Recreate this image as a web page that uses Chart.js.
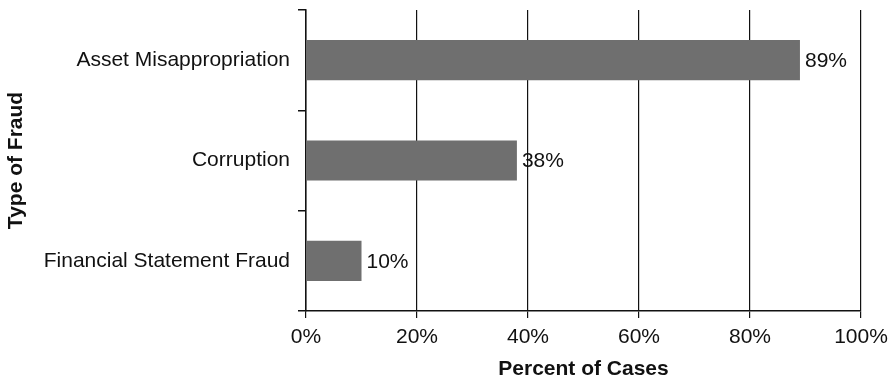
<!DOCTYPE html>
<html>
<head>
<meta charset="utf-8">
<script src="https://cdn.jsdelivr.net/npm/chart.js@4"></script>
<style>
  html, body { margin: 0; padding: 0; background: #fff; }
  #wrap { width: 892px; height: 379px; }
</style>
</head>
<body>
<div id="wrap"><canvas id="grafico"></canvas></div>
<script>
var tipiDiFrode = ['Asset Misappropriation', 'Corruption', 'Financial Statement Fraud'];
var percentuali = [89, 38, 10];
var tickX = [0, 20, 40, 60, 80, 100];

// scrive la percentuale a destra di ogni barra
var etichetteBarre = {
  id: 'etichetteBarre',
  afterDatasetsDraw: function (chart) {
    var ctx = chart.ctx;
    var meta = chart.getDatasetMeta(0);
    ctx.save();
    ctx.font = '21px "Liberation Sans", Arial, sans-serif';
    ctx.fillStyle = '#111';
    ctx.textAlign = 'left';
    ctx.textBaseline = 'middle';
    meta.data.forEach(function (bar, i) {
      ctx.fillText(percentuali[i] + '%', bar.x + 5, bar.y + 1);
    });
    ctx.restore();
  }
};

var font = { family: '"Liberation Sans", Arial, sans-serif', size: 21 };

new Chart(document.getElementById('grafico'), {
  type: 'bar',
  data: {
    labels: tipiDiFrode,
    datasets: [{
      data: percentuali,
      backgroundColor: '#6f6f6f',
      barPercentage: 0.4,
      categoryPercentage: 1
    }]
  },
  options: {
    indexAxis: 'y',
    responsive: true,
    maintainAspectRatio: false,
    animation: false,
    layout: { padding: { top: 10, right: 31, bottom: 0, left: 0 } },
    plugins: { legend: { display: false }, tooltip: { enabled: false } },
    scales: {
      x: {
        min: 0, max: 100,
        afterBuildTicks: function (scale) {
          scale.ticks = tickX.map(function (v) { return { value: v }; });
        },
        afterFit: function (scale) {
          scale.height = 68;
          scale.paddingLeft = 0;
          scale.paddingRight = 0;
        },
        ticks: {
          color: '#111', font: font, padding: 7,
          callback: function (v) { return v + '%'; }
        },
        grid: {
          color: '#111', lineWidth: 1.2, tickLength: 7, drawTicks: true,
          tickColor: '#111'
        },
        border: { display: true, color: '#111', width: 1.5 },
        title: {
          display: true, text: 'Percent of Cases', color: '#111',
          font: { family: font.family, size: 21, weight: 'bold', lineHeight: 0.9 },
          padding: { top: 4, bottom: 0 }
        }
      },
      y: {
        afterFit: function (scale) {
          scale.width = 306;
          scale.paddingTop = 0;
          scale.paddingBottom = 0;
        },
        ticks: { color: '#111', font: font, padding: 8 },
        grid: {
          offset: true, drawOnChartArea: false, tickLength: 8,
          tickColor: '#111', lineWidth: 1.5
        },
        border: { display: true, color: '#111', width: 1.5 },
        title: {
          display: true, text: 'Type of Fraud', color: '#111',
          font: { family: font.family, size: 21, weight: 'bold' },
          padding: { top: 4, bottom: 0 }
        }
      }
    }
  },
  plugins: [etichetteBarre]
});
</script>
</body>
</html>
